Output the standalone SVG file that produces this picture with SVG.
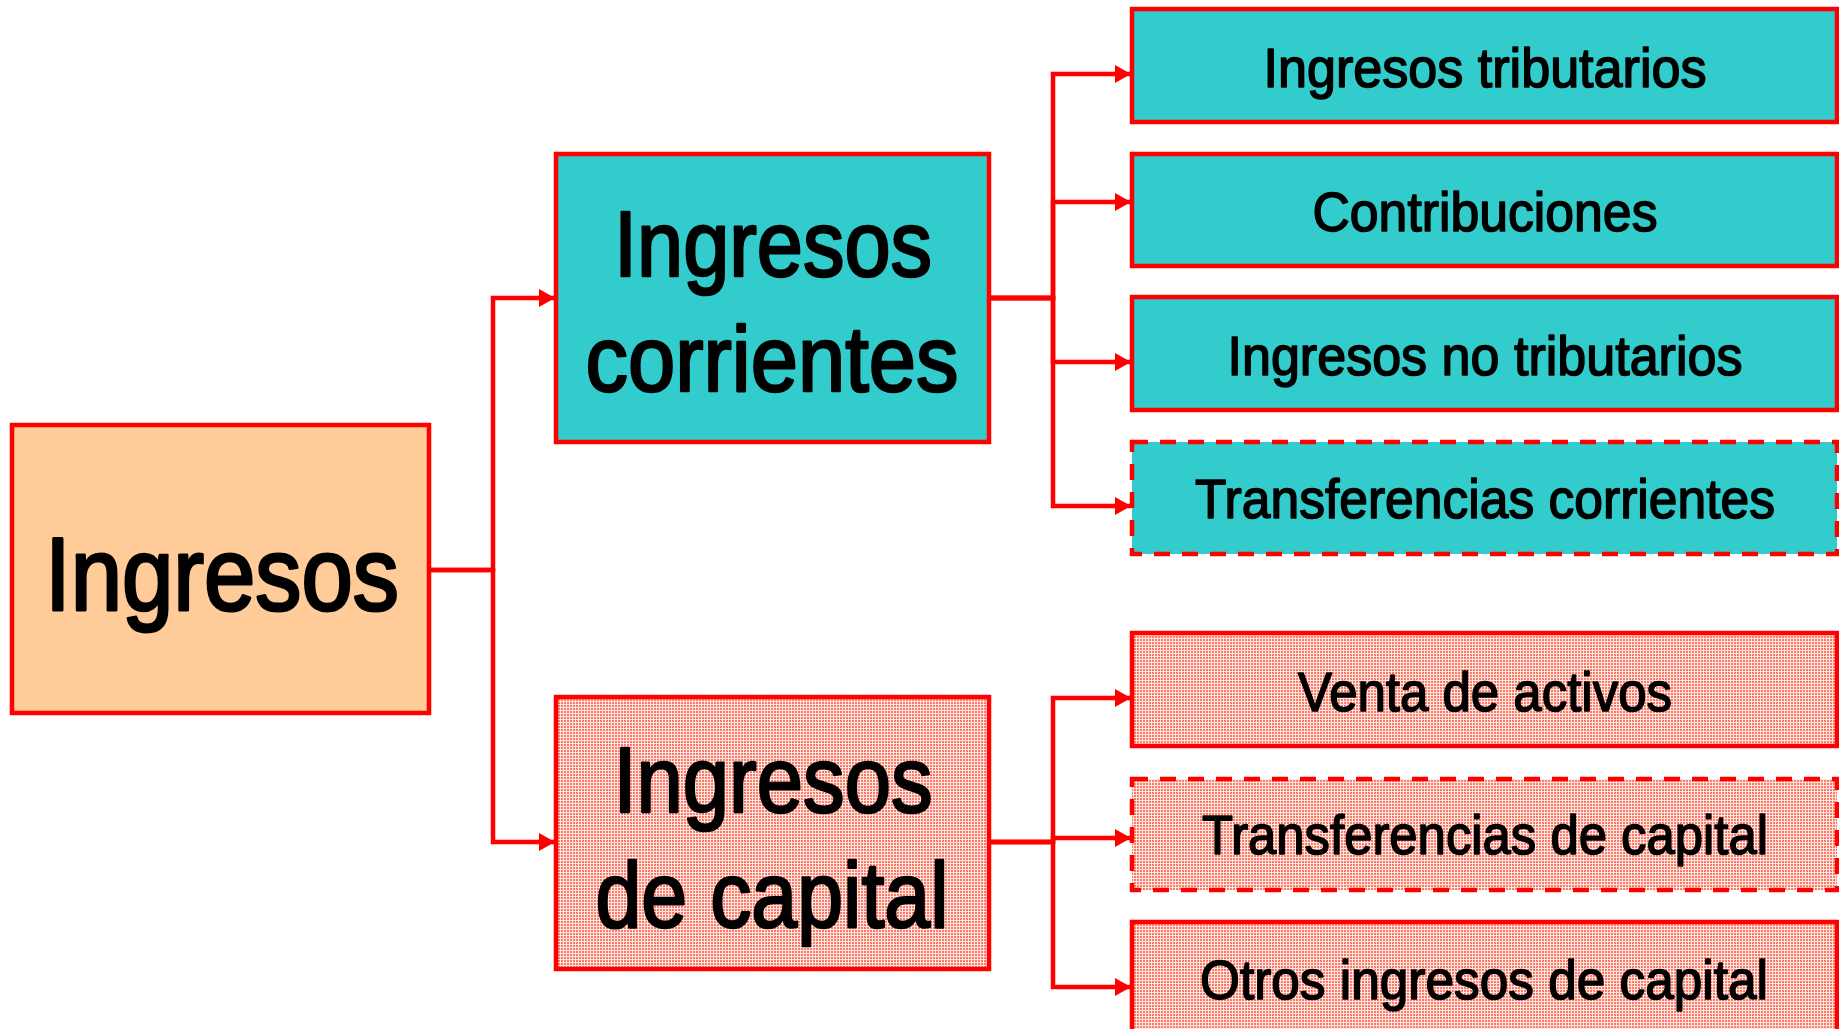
<svg xmlns="http://www.w3.org/2000/svg" width="1839" height="1029" viewBox="0 0 1839 1029">
<style>
.box{stroke:#FF0000;stroke-width:4.5}
.peach{fill:#FFCC99}
.teal{fill:#33CCCC}
.cap{fill:url(#dots)}
.dash{stroke-dasharray:16 12}
.t{font-family:"Liberation Sans",Arial,sans-serif;fill:#000;stroke:#000;stroke-linejoin:round;text-anchor:middle}
.big{font-size:103px;stroke-width:3}
.mid{font-size:93px;stroke-width:2.6}
.sm{font-size:55px;stroke-width:1.6}
.conn{fill:none;stroke:#FF0000;stroke-width:4.5;marker-end:url(#arr)}
</style>
<defs>
<pattern id="dots" width="3" height="3" patternUnits="userSpaceOnUse">
<rect width="3" height="3" fill="#FFE6E0"/>
<rect width="2" height="2" fill="#FF7A66"/>
</pattern>
<marker id="arr" markerUnits="userSpaceOnUse" markerWidth="17" markerHeight="19" refX="16" refY="9" orient="auto">
<path d="M0,0 L16,9 L0,18 z" fill="#FF0000"/>
</marker>
</defs>
<rect width="1839" height="1029" fill="#FFFFFF"/>
<g id="connectors">
<path class="conn" d="M430,570 H493 V298 H555"/>
<path class="conn" d="M430,570 H493 V842 H555"/>
<path class="conn" d="M989,298 H1053 V74 H1131"/>
<path class="conn" d="M989,298 H1053 V202 H1131"/>
<path class="conn" d="M989,298 H1053 V362 H1131"/>
<path class="conn" d="M989,298 H1053 V506 H1131"/>
<path class="conn" d="M989,842 H1053 V698 H1131"/>
<path class="conn" d="M989,842 H1053 V838 H1131"/>
<path class="conn" d="M989,842 H1053 V987 H1131"/>
</g>
<g id="n-ingresos">
<rect class="box peach" x="12" y="425" width="417" height="288"/>
<text class="t big" x="222" y="610" textLength="354" lengthAdjust="spacingAndGlyphs">Ingresos</text>
</g>
<g id="n-corrientes">
<rect class="box teal" x="556" y="154" width="433" height="288"/>
<text class="t mid" x="773" y="276" textLength="318" lengthAdjust="spacingAndGlyphs">Ingresos</text>
<text class="t mid" x="772" y="391" textLength="373" lengthAdjust="spacingAndGlyphs">corrientes</text>
</g>
<g id="n-capital">
<rect class="box cap" x="556" y="697" width="433" height="272"/>
<text class="t mid" x="773" y="812" textLength="319" lengthAdjust="spacingAndGlyphs">Ingresos</text>
<text class="t mid" x="772" y="927" textLength="353" lengthAdjust="spacingAndGlyphs">de capital</text>
</g>
<g id="n-tributarios">
<rect class="box teal" x="1132" y="9" width="705" height="113"/>
<text class="t sm" x="1485" y="87" textLength="443" lengthAdjust="spacingAndGlyphs">Ingresos tributarios</text>
</g>
<g id="n-contribuciones">
<rect class="box teal" x="1132" y="154" width="705" height="112"/>
<text class="t sm" x="1485" y="231" textLength="345" lengthAdjust="spacingAndGlyphs">Contribuciones</text>
</g>
<g id="n-notributarios">
<rect class="box teal" x="1132" y="297" width="705" height="113"/>
<text class="t sm" x="1485" y="375" textLength="515" lengthAdjust="spacingAndGlyphs">Ingresos no tributarios</text>
</g>
<g id="n-transf-corrientes">
<rect class="box teal dash" x="1132" y="442" width="705" height="112"/>
<text class="t sm" x="1485" y="518" textLength="580" lengthAdjust="spacingAndGlyphs">Transferencias corrientes</text>
</g>
<g id="n-venta">
<rect class="box cap" x="1132" y="633" width="705" height="113"/>
<text class="t sm" x="1485" y="711" textLength="374" lengthAdjust="spacingAndGlyphs">Venta de activos</text>
</g>
<g id="n-transf-capital">
<rect class="box cap dash" x="1132" y="779" width="705" height="111"/>
<text class="t sm" x="1485" y="854" textLength="566" lengthAdjust="spacingAndGlyphs">Transferencias de capital</text>
</g>
<g id="n-otros">
<rect class="box cap" x="1132" y="922" width="705" height="120"/>
<text class="t sm" x="1484" y="999" textLength="568" lengthAdjust="spacingAndGlyphs">Otros ingresos de capital</text>
</g>
</svg>
